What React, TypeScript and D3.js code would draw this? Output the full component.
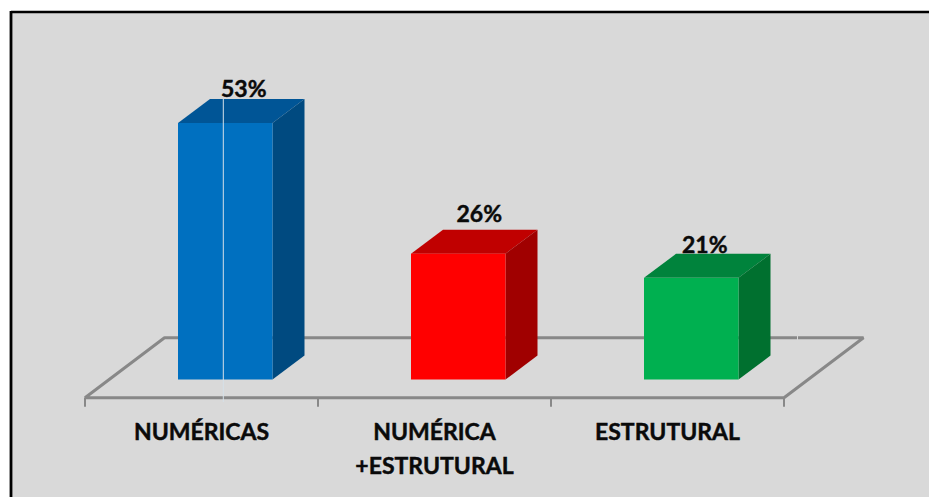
import React from "react";
import * as d3 from "d3";

// Chart data
const categories = ["NUMÉRICAS", "NUMÉRICA\n+ESTRUTURAL", "ESTRUTURAL"];
const shares = [53, 26, 21];
const frontColors = ["#0070c0", "#ff0000", "#00b050"];
const topColors = ["#005596", "#c00000", "#00833c"];
const sideColors = ["#004a80", "#a00000", "#00702f"];
// Hand-placed data label nudges relative to the back edge of each column top
const labelNudges = [
  { dx: -13.5, dy: -2.5 },
  { dx: -11, dy: -7.5 },
  { dx: -18.5, dy: -0.5 },
];

const W = 929;
const H = 497;
const FONT = "Lato, 'Open Sans', sans-serif";
const TEXT_SIZE = 23;
const TEXT_WEIGHT = 0.45;

// Oblique projection used for the floor and columns
const DEPTH_X = 32;
const DEPTH_Y = 24;
const FLOOR_DX = 79.5;
const FLOOR_DY = 60;

const x = d3.scaleBand<string>().domain(categories).range([85, 784]);
const y = d3.scaleLinear().domain([0, 53]).range([379.5, 123]);
const BAR_INSET = 93;
const BAR_WIDTH = 94.5;

const FLOOR_FRONT = 397.8;
const GREY = "#888888";

function poly(points: [number, number][]) {
  const p = d3.path();
  points.forEach(([a, b], i) => (i ? p.lineTo(a, b) : p.moveTo(a, b)));
  p.closePath();
  return p.toString();
}

function Column({ index }: { index: number }) {
  const cat = categories[index];
  const x0 = (x(cat) as number) + BAR_INSET;
  const x1 = x0 + BAR_WIDTH;
  const yTop = y(shares[index]);
  const yBase = y(0);
  const nudge = labelNudges[index];
  return (
    <g>
      <path
        d={poly([[x0, yTop], [x0 + DEPTH_X, yTop - DEPTH_Y], [x1 + DEPTH_X, yTop - DEPTH_Y], [x1, yTop]])}
        fill={topColors[index]}
      />
      <path
        d={poly([[x1, yTop], [x1 + DEPTH_X, yTop - DEPTH_Y], [x1 + DEPTH_X, yBase - DEPTH_Y], [x1, yBase]])}
        fill={sideColors[index]}
      />
      <rect x={x0} y={yTop} width={BAR_WIDTH} height={yBase - yTop} fill={frontColors[index]} />
      <text
        x={x0 + DEPTH_X + BAR_WIDTH / 2 + nudge.dx}
        y={yTop - DEPTH_Y + nudge.dy}
        textAnchor="middle"
        fontFamily={FONT}
        fontWeight={700}
        fontSize={TEXT_SIZE}
        fill="#0a0a0a"
        stroke="#0a0a0a"
        strokeWidth={TEXT_WEIGHT}
      >
        {shares[index]}%
      </text>
    </g>
  );
}

export default function App() {
  const step = x.step();
  const ticks = d3.range(categories.length + 1).map((i) => 85 + i * step);
  const left = 85;
  const right = 784;
  const floorPath = d3.path();
  floorPath.moveTo(left, FLOOR_FRONT);
  floorPath.lineTo(left + FLOOR_DX, FLOOR_FRONT - FLOOR_DY);
  floorPath.lineTo(right + FLOOR_DX, FLOOR_FRONT - FLOOR_DY);
  floorPath.lineTo(right, FLOOR_FRONT);
  floorPath.closePath();

  return (
    <svg
      width={W}
      height={H}
      viewBox={`0 0 ${W} ${H}`}
      style={{ position: "absolute", left: 0, top: 0, display: "block" }}
    >
      <rect width={W} height={H} fill="#ffffff" />
      {/* Chart area with a heavy top and left border; it runs off the other two edges */}
      <rect x={11} y={12} width={W} height={H} fill="#d9d9d9" />
      <line x1={11} y1={12} x2={W} y2={12} stroke="#000000" strokeWidth={2.4} />
      <line x1={11} y1={11} x2={11} y2={H} stroke="#000000" strokeWidth={2.8} />

      {/* Floor plane */}
      <path d={floorPath.toString()} fill="none" stroke={GREY} strokeWidth={3} strokeLinejoin="bevel" />
      {ticks.map((t) => (
        <line key={t} x1={t} x2={t} y1={FLOOR_FRONT} y2={406.8} stroke={GREY} strokeWidth={2} />
      ))}

      {categories.map((_, i) => (
        <Column key={i} index={i} />
      ))}

      {/* Thin light seams across the column and floor */}
      <line x1={223.3} x2={223.3} y1={99} y2={402} stroke="#d5e0e8" strokeWidth={1} />
      <line x1={797.5} x2={797.5} y1={335} y2={340} stroke="#d9d9d9" strokeWidth={1} />

      {/* Category labels */}
      {categories.map((c, k) => (
        <text
          key={c}
          x={(x(c) as number) + x.bandwidth() / 2}
          textAnchor="middle"
          fontFamily={FONT}
          fontWeight={700}
          fontSize={TEXT_SIZE}
          fill="#0a0a0a"
          stroke="#0a0a0a"
          strokeWidth={TEXT_WEIGHT}
        >
          {c.split("\n").map((line, i) => (
            <tspan key={i} x={(x(c) as number) + x.bandwidth() / 2} y={440 + i * 33.5}>
              {line}
            </tspan>
          ))}
        </text>
      ))}
    </svg>
  );
}
